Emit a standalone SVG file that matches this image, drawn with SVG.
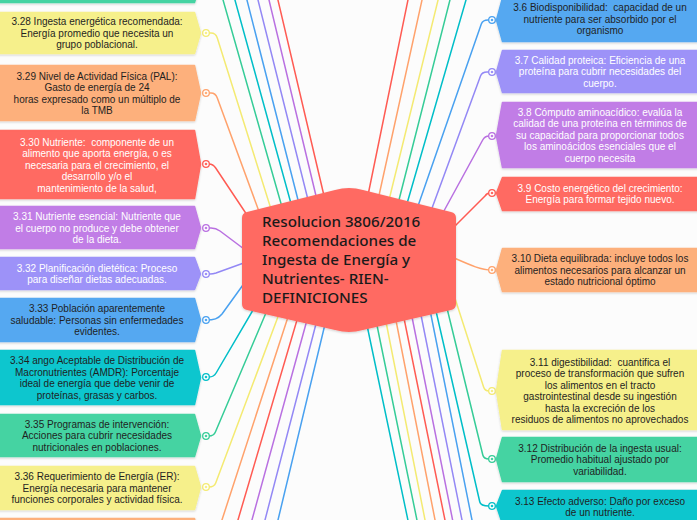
<svg xmlns="http://www.w3.org/2000/svg" width="697" height="520" viewBox="0 0 697 520">
<style>
.bg{fill:#FCFCFC}
.ln{fill:none;stroke-width:1.5;stroke-linecap:round;stroke-linejoin:round}
.s-r{stroke:#FF5B53}.s-o{stroke:#FFA26C}.s-y{stroke:#F4EA72}.s-g{stroke:#35CC97}
.s-t{stroke:#00BEC8}.s-b{stroke:#49A1F0}.s-l{stroke:#9388F5}.s-p{stroke:#B970E1}
.f-r{fill:#FF6A62}.f-o{fill:#FDB07C}.f-y{fill:#F6F08B}.f-g{fill:#45D3A2}
.f-t{fill:#10C6CE}.f-b{fill:#54A8F1}.f-l{fill:#9D92F8}.f-p{fill:#C17DE6}
.box{filter:url(#sh);stroke-width:1.5;stroke-linejoin:round}
.k-r{stroke:#FF6A62}.k-o{stroke:#FDB07C}.k-y{stroke:#F6F08B}.k-g{stroke:#45D3A2}
.k-t{stroke:#10C6CE}.k-b{stroke:#54A8F1}.k-l{stroke:#9D92F8}.k-p{stroke:#C17DE6}
.tx{font-family:"Liberation Sans",Arial,sans-serif;font-size:10px;text-anchor:middle}
.dk{fill:#1F1F1F}.wt{fill:#FFFFFF}
.ring{fill:#FFFFFF;stroke-width:1.3}
.ct{font-family:"Noto Sans","Liberation Sans",sans-serif;font-size:15.2px;font-weight:500;fill:#1A1A1A}
</style>
<defs>
<filter id="sh" x="-10%" y="-20%" width="120%" height="150%">
<feDropShadow dx="0" dy="1" stdDeviation="1.2" flood-color="#000" flood-opacity="0.18"/>
</filter>
</defs>
<rect class="bg" x="0" y="0" width="697" height="520"/>

<g id="connectors">
<path class="ln s-g" d="M220.2,-10 L287.1,225"/>
<path class="ln s-t" d="M232.2,-10 L296.9,225"/>
<path class="ln s-b" d="M244.4,-10 L304.4,225"/>
<path class="ln s-l" d="M255.5,-10 L314.3,225"/>
<path class="ln s-p" d="M266.6,-10 L323,225"/>
<path class="ln s-r" d="M275.6,-10 L330.9,225"/>
<path class="ln s-y" d="M206,33 L211,33 Q215.7,33 217.3,38 L276,225"/>
<path class="ln s-o" d="M206,93 L211,93 Q215.5,93 217.3,98 L264,225"/>
<path class="ln s-r" d="M206,164 L209,164 Q213,164 215.7,168 L255,227"/>
<path class="ln s-p" d="M206,228 L211,228 Q216,228 220,231 L252,255"/>
<path class="ln s-l" d="M206,274 L210,274 Q213,274 216,273 L252,260"/>
<path class="ln s-b" d="M206,320 C214,320 218,319 222,314 L248,278"/>
<path class="ln s-t" d="M206,377 L209,377 Q213.8,377 216.1,373 L256,305"/>
<path class="ln s-g" d="M206,436 L209,436 Q213.7,436 215.4,432 L271,301"/>
<path class="ln s-y" d="M206,487 L209,487 Q214.2,487 215.7,483 L285,298"/>
<path class="ln s-o" d="M218.7,530 L293.5,300"/>
<path class="ln s-r" d="M235,530 L302.9,300"/>
<path class="ln s-p" d="M249.2,530 L312.5,300"/>
<path class="ln s-l" d="M262.4,530 L322.2,300"/>
<path class="ln s-b" d="M275.6,530 L330.8,300"/>
<path class="ln s-r" d="M410,-10 L361.9,225"/>
<path class="ln s-o" d="M424.2,-10 L372.5,225"/>
<path class="ln s-y" d="M440.5,-10 L382.9,225"/>
<path class="ln s-g" d="M452.5,-10 L392.6,225"/>
<path class="ln s-t" d="M468.9,-10 L400.8,225"/>
<path class="ln s-b" d="M492,20 L488,20 Q482.7,20 481.3,24 L411.4,225"/>
<path class="ln s-l" d="M492,72 L487,72 Q482,72 480.5,76 L424,230"/>
<path class="ln s-p" d="M492,136 L489,136 Q484.9,136 482.7,140 L433,231"/>
<path class="ln s-r" d="M492,193 L490,193 Q487,193 485,196 L445,236"/>
<path class="ln s-o" d="M492,270 C480,270 470,265 445,254"/>
<path class="ln s-y" d="M492,391 L489,391 Q484.9,391 483.6,387 L450.7,285"/>
<path class="ln s-g" d="M492,459 L489,459 Q483.8,459 482.8,455 L445,300"/>
<path class="ln s-t" d="M492,506 L489,506 Q480.7,506 479.8,502 L433,298"/>
<path class="ln s-b" d="M474,530 L428,300"/>
<path class="ln s-l" d="M464,530 L418,300"/>
<path class="ln s-p" d="M454.6,530 L408.6,300"/>
<path class="ln s-r" d="M447,530 L400.3,300"/>
<path class="ln s-o" d="M437,530 L392,300"/>
<path class="ln s-y" d="M427,530 L381.7,300"/>
<path class="ln s-g" d="M419,530 L371.8,300"/>
<path class="ln s-t" d="M410,530 L361.7,300"/>
<circle class="ring s-y" cx="206" cy="33" r="3.3"/><circle class="f-y" cx="206" cy="33" r="1.3"/>
<circle class="ring s-o" cx="206" cy="93" r="3.3"/><circle class="f-o" cx="206" cy="93" r="1.3"/>
<circle class="ring s-r" cx="206" cy="164" r="3.3"/><circle class="f-r" cx="206" cy="164" r="1.3"/>
<circle class="ring s-p" cx="206" cy="228" r="3.3"/><circle class="f-p" cx="206" cy="228" r="1.3"/>
<circle class="ring s-l" cx="206" cy="274" r="3.3"/><circle class="f-l" cx="206" cy="274" r="1.3"/>
<circle class="ring s-b" cx="206" cy="320" r="3.3"/><circle class="f-b" cx="206" cy="320" r="1.3"/>
<circle class="ring s-t" cx="206" cy="377" r="3.3"/><circle class="f-t" cx="206" cy="377" r="1.3"/>
<circle class="ring s-g" cx="206" cy="436" r="3.3"/><circle class="f-g" cx="206" cy="436" r="1.3"/>
<circle class="ring s-y" cx="206" cy="487" r="3.3"/><circle class="f-y" cx="206" cy="487" r="1.3"/>
<circle class="ring s-b" cx="492" cy="20" r="3.3"/><circle class="f-b" cx="492" cy="20" r="1.3"/>
<circle class="ring s-l" cx="492" cy="72" r="3.3"/><circle class="f-l" cx="492" cy="72" r="1.3"/>
<circle class="ring s-p" cx="492" cy="136" r="3.3"/><circle class="f-p" cx="492" cy="136" r="1.3"/>
<circle class="ring s-r" cx="492" cy="193" r="3.3"/><circle class="f-r" cx="492" cy="193" r="1.3"/>
<circle class="ring s-o" cx="492" cy="270" r="3.3"/><circle class="f-o" cx="492" cy="270" r="1.3"/>
<circle class="ring s-y" cx="492" cy="391" r="3.3"/><circle class="f-y" cx="492" cy="391" r="1.3"/>
<circle class="ring s-g" cx="492" cy="459" r="3.3"/><circle class="f-g" cx="492" cy="459" r="1.3"/>
<circle class="ring s-t" cx="492" cy="506" r="3.3"/><circle class="f-t" cx="492" cy="506" r="1.3"/>
</g>

<g id="n327"><path class="box f-g k-g" d="M-10,-40 L194.5,-40 L200.5,-18 L194.5,2.5 L-10,2.5 Z"/></g>

<g id="n328"><path class="box f-y k-y" d="M-10,12.5 L194.5,12.5 L200.5,33 L194.5,53.5 L-10,53.5 Z"/>
<text class="tx dk"><tspan x="97" y="25">3.28 Ingesta energética recomendada:</tspan><tspan x="97" y="36.5">Energía promedio que necesita un</tspan><tspan x="97" y="48">grupo poblacional.</tspan></text></g>

<g id="n329"><path class="box f-o k-o" d="M-10,65.5 L194.5,65.5 L200.5,93 L194.5,120.5 L-10,120.5 Z"/>
<text class="tx dk"><tspan x="97" y="79.5">3.29 Nivel de Actividad Física (PAL):</tspan><tspan x="97" y="91">Gasto de energía de 24</tspan><tspan x="97" y="102.5">horas expresado como un múltiplo de</tspan><tspan x="97" y="114">la TMB</tspan></text></g>

<g id="n330"><path class="box f-r k-r" d="M-10,130.5 L194.5,130.5 L200.5,164 L194.5,198.5 L-10,198.5 Z"/>
<text class="tx wt"><tspan x="97" y="145.5">3.30 Nutriente:&#160; componente de un</tspan><tspan x="97" y="157">alimento que aporta energía, o es</tspan><tspan x="97" y="168.5">necesaria para el crecimiento, el</tspan><tspan x="97" y="180">desarrollo y/o el</tspan><tspan x="97" y="191.5">mantenimiento de la salud,</tspan></text></g>

<g id="n331"><path class="box f-p k-p" d="M-10,206.5 L194.5,206.5 L200.5,228 L194.5,248.5 L-10,248.5 Z"/>
<text class="tx wt"><tspan x="97" y="220">3.31 Nutriente esencial: Nutriente que</tspan><tspan x="97" y="231.5">el cuerpo no produce y debe obtener</tspan><tspan x="97" y="243">de la dieta.</tspan></text></g>

<g id="n332"><path class="box f-l k-l" d="M-10,257.5 L194.5,257.5 L200.5,274 L194.5,289.5 L-10,289.5 Z"/>
<text class="tx wt"><tspan x="97" y="271.5">3.32 Planificación dietética: Proceso</tspan><tspan x="97" y="283">para diseñar dietas adecuadas.</tspan></text></g>

<g id="n333"><path class="box f-b k-b" d="M-10,298.5 L194.5,298.5 L200.5,320 L194.5,341.5 L-10,341.5 Z"/>
<text class="tx dk"><tspan x="97" y="312">3.33 Población aparentemente</tspan><tspan x="97" y="323.5">saludable: Personas sin enfermedades</tspan><tspan x="97" y="335">evidentes.</tspan></text></g>

<g id="n334"><path class="box f-t k-t" d="M-10,350.5 L194.5,350.5 L200.5,377.5 L194.5,404.5 L-10,404.5 Z"/>
<text class="tx dk"><tspan x="97" y="364">3.34 ango Aceptable de Distribución de</tspan><tspan x="97" y="375.5">Macronutrientes (AMDR): Porcentaje</tspan><tspan x="97" y="387">ideal de energía que debe venir de</tspan><tspan x="97" y="398.5">proteínas, grasas y carbos.</tspan></text></g>

<g id="n335"><path class="box f-g k-g" d="M-10,414.5 L194.5,414.5 L200.5,436 L194.5,456.5 L-10,456.5 Z"/>
<text class="tx dk"><tspan x="97" y="427.5">3.35 Programas de intervención:</tspan><tspan x="97" y="439">Acciones para cubrir necesidades</tspan><tspan x="97" y="450.5">nutricionales en poblaciones.</tspan></text></g>

<g id="n336"><path class="box f-y k-y" d="M-10,466.5 L194.5,466.5 L200.5,487 L194.5,509.5 L-10,509.5 Z"/>
<text class="tx dk"><tspan x="97" y="480">3.36 Requerimiento de Energía (ER):</tspan><tspan x="97" y="491.5">Energía necesaria para mantener</tspan><tspan x="97" y="503">funciones corporales y actividad física.</tspan></text></g>

<g id="n337"><path class="box f-o k-o" d="M-10,518.5 L194.5,518.5 L200.5,545 L194.5,570 L-10,570 Z"/></g>

<g id="n36"><path class="box f-b k-b" d="M707,-2 L502.5,-2 L496.5,20 L502.5,41.5 L707,41.5 Z"/>
<text class="tx dk"><tspan x="600" y="11">3.6 Biodisponibilidad:&#160; capacidad de un</tspan><tspan x="600" y="22.5">nutriente para ser absorbido por el</tspan><tspan x="600" y="34">organismo</tspan></text></g>

<g id="n37"><path class="box f-l k-l" d="M707,50.5 L502.5,50.5 L496.5,72 L502.5,92.5 L707,92.5 Z"/>
<text class="tx wt"><tspan x="600" y="63.5">3.7 Calidad proteica: Eficiencia de una</tspan><tspan x="600" y="75">proteína para cubrir necesidades del</tspan><tspan x="600" y="86.5">cuerpo.</tspan></text></g>

<g id="n38"><path class="box f-p k-p" d="M707,102.5 L502.5,102.5 L496.5,136 L502.5,167.5 L707,167.5 Z"/>
<text class="tx wt"><tspan x="600" y="115.5">3.8 Cómputo aminoacídico: evalúa la</tspan><tspan x="600" y="127">calidad de una proteína en términos de</tspan><tspan x="600" y="138.5">su capacidad para proporcionar todos</tspan><tspan x="600" y="150">los aminoácidos esenciales que el</tspan><tspan x="600" y="161.5">cuerpo necesita</tspan></text></g>

<g id="n39"><path class="box f-r k-r" d="M707,177.5 L502.5,177.5 L496.5,193 L502.5,210.5 L707,210.5 Z"/>
<text class="tx wt"><tspan x="600" y="191.5">3.9 Costo energético del crecimiento:</tspan><tspan x="600" y="203">Energía para formar tejido nuevo.</tspan></text></g>

<g id="n310"><path class="box f-o k-o" d="M707,248.5 L502.5,248.5 L496.5,270 L502.5,291.5 L707,291.5 Z"/>
<text class="tx dk"><tspan x="600" y="262">3.10 Dieta equilibrada: incluye todos los</tspan><tspan x="600" y="273.5">alimentos necesarios para alcanzar un</tspan><tspan x="600" y="285">estado nutricional óptimo</tspan></text></g>

<g id="n311"><path class="box f-y k-y" d="M707,350.5 L502.5,350.5 L496.5,391 L502.5,429.5 L707,429.5 Z"/>
<text class="tx dk"><tspan x="600" y="365.5">3.11 digestibilidad:&#160; cuantifica el</tspan><tspan x="600" y="377">proceso de transformación que sufren</tspan><tspan x="600" y="388.5">los alimentos en el tracto</tspan><tspan x="600" y="400">gastrointestinal desde su ingestión</tspan><tspan x="600" y="411.5">hasta la excreción de los</tspan><tspan x="600" y="423">residuos de alimentos no aprovechados</tspan></text></g>

<g id="n312"><path class="box f-g k-g" d="M707,437.5 L502.5,437.5 L496.5,459 L502.5,481.5 L707,481.5 Z"/>
<text class="tx dk"><tspan x="600" y="451.5">3.12 Distribución de la ingesta usual:</tspan><tspan x="600" y="463">Promedio habitual ajustado por</tspan><tspan x="600" y="474.5">variabilidad.</tspan></text></g>

<g id="n313"><path class="box f-t k-t" d="M707,490.5 L502.5,490.5 L496.5,506 L502.5,524 L707,524 Z"/>
<text class="tx dk"><tspan x="600" y="504.5">3.13 Efecto adverso: Daño por exceso</tspan><tspan x="600" y="516">de un nutriente.</tspan></text></g>

<g id="center"><path class="box f-r" d="M247,212 L335,190 Q349,186 363,190 L451,212 Q456,213 456,218 L456,304 Q456,309 451,310 L363,330 Q349,334 335,330 L247,310 Q242,309 242,304 L242,218 Q242,213 247,212 Z"/>
<text class="ct"><tspan x="262" y="227">Resolucion 3806/2016</tspan><tspan x="262" y="246">Recomendaciones de</tspan><tspan x="262" y="265">Ingesta de Energía y</tspan><tspan x="262" y="284">Nutrientes- RIEN-</tspan><tspan x="262" y="303">DEFINICIONES</tspan></text></g>
</svg>
